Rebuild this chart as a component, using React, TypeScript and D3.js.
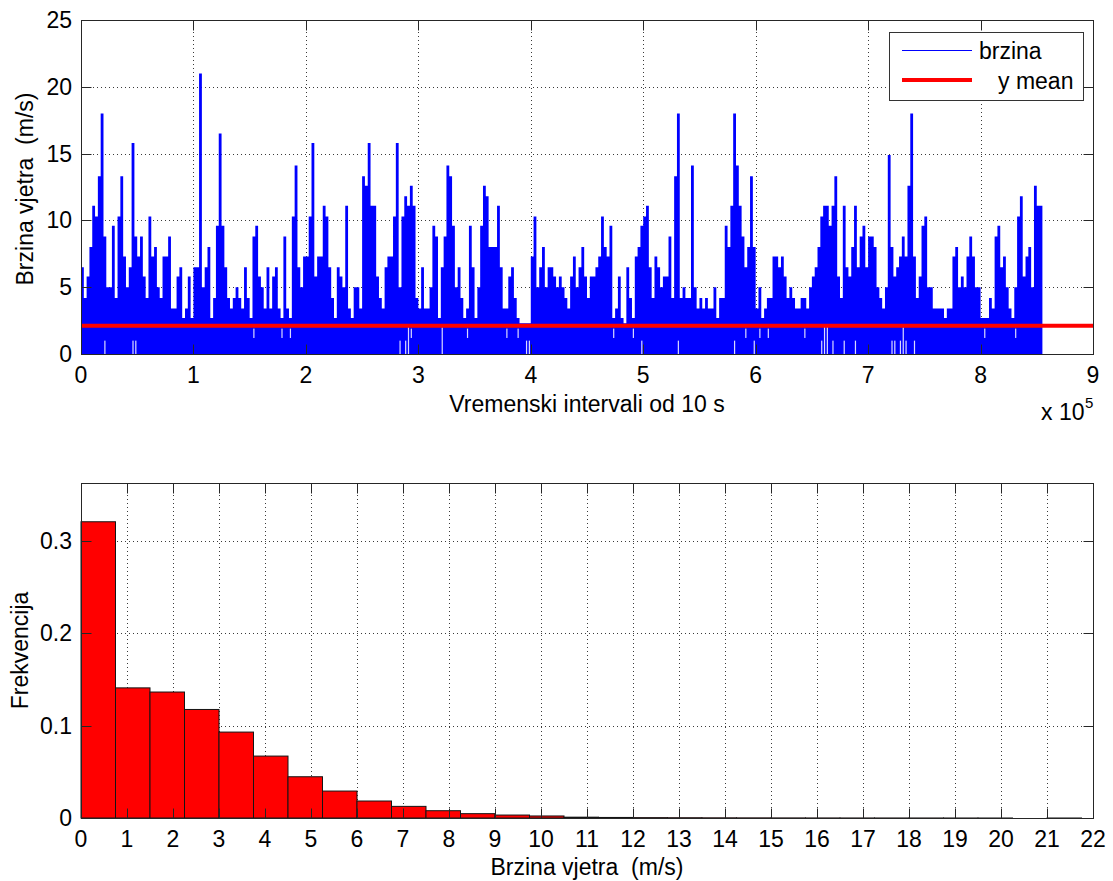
import React from 'react';
import * as d3 from 'd3';

const W = 1113;
const H = 881;
const FONT = '"Liberation Sans", Arial, Helvetica, sans-serif';
const FS = 23;

// ---- Wind speed record (ten-second intervals) ----
// Maximum speed (m/s) reached in each block of 2500 consecutive intervals.
const BLOCK = 2500;
const speedPeaks: number[] = [
  6.5, 4.2, 5.8, 8.0, 11.1, 10.3, 13.3, 18.0, 8.8, 5.0, 5.0, 9.6, 4.2, 10.3, 13.3, 7.3, 5.0, 6.5, 15.8, 8.8,
  7.3, 8.8, 5.8, 4.2, 10.3, 7.3, 8.0, 5.0, 4.2, 7.3, 7.3, 8.8, 3.4, 3.4, 5.8, 6.5, 2.7, 3.4, 5.8, 2.7,
  6.5, 6.5, 21.0, 5.0, 6.5, 8.0, 2.7, 4.2, 9.6, 16.5, 9.6, 6.5, 4.2, 3.4, 4.2, 5.0, 4.2, 3.4, 6.5, 4.2,
  2.7, 8.8, 9.6, 5.8, 5.0, 3.4, 6.5, 3.4, 5.8, 6.5, 3.4, 2.7, 8.8, 3.4, 2.7, 10.3, 14.1, 6.5, 5.0, 7.3,
  7.3, 10.3, 15.8, 5.8, 7.3, 7.3, 11.1, 10.3, 6.5, 4.2, 2.7, 6.5, 5.8, 5.0, 11.1, 3.4, 2.7, 5.0, 5.0, 3.4,
  13.3, 12.6, 15.8, 11.1, 11.1, 5.8, 4.2, 3.4, 6.5, 7.3, 7.3, 10.3, 15.8, 5.0, 10.3, 11.8, 11.1, 12.6, 11.1, 4.2,
  3.4, 6.5, 3.4, 3.4, 5.0, 9.6, 8.8, 2.7, 6.5, 8.8, 14.1, 13.3, 9.6, 5.0, 6.5, 4.2, 2.7, 3.4, 9.6, 6.5,
  2.7, 5.0, 9.6, 12.6, 11.8, 8.0, 8.0, 8.0, 11.1, 6.5, 3.4, 3.4, 5.8, 6.5, 4.2, 2.7, 2.3, 2.3, 2.3, 2.3,
  7.3, 10.3, 5.0, 6.5, 8.0, 5.0, 6.5, 6.5, 5.8, 5.0, 5.8, 5.0, 4.2, 3.4, 5.8, 7.3, 5.0, 6.5, 8.0, 5.8,
  4.2, 5.8, 5.8, 6.5, 7.3, 10.3, 8.0, 7.3, 9.6, 2.7, 3.4, 5.8, 2.7, 2.3, 6.5, 4.2, 2.7, 7.3, 8.0, 9.6,
  10.3, 11.1, 6.5, 4.2, 7.3, 6.5, 5.0, 5.8, 5.8, 8.8, 4.2, 13.3, 18.0, 4.2, 5.0, 4.2, 4.2, 14.1, 5.0, 3.4,
  4.2, 3.4, 4.2, 3.4, 3.4, 5.0, 2.7, 4.2, 4.2, 9.6, 8.0, 11.1, 18.0, 14.1, 11.1, 8.8, 6.5, 8.0, 13.3, 8.0,
  3.4, 5.0, 2.7, 3.4, 4.2, 4.2, 7.3, 7.3, 6.5, 7.3, 5.8, 4.2, 5.0, 4.2, 3.4, 3.4, 4.2, 4.2, 3.4, 5.0,
  5.8, 6.5, 8.0, 10.3, 11.1, 11.1, 9.6, 11.1, 13.3, 5.8, 4.2, 11.1, 6.5, 5.8, 8.0, 11.1, 6.5, 8.8, 9.6, 6.5,
  8.8, 8.8, 8.0, 5.0, 4.2, 3.4, 5.0, 14.9, 8.0, 5.8, 6.5, 7.3, 8.8, 7.3, 12.6, 18.0, 7.3, 4.2, 5.8, 9.6,
  10.3, 5.0, 5.0, 3.4, 3.4, 3.4, 3.4, 2.7, 3.4, 3.4, 7.3, 8.0, 5.0, 5.8, 5.0, 7.3, 8.8, 7.3, 5.0, 5.0,
  2.7, 2.7, 2.7, 4.2, 3.4, 8.8, 9.6, 6.5, 7.3, 5.0, 3.4, 2.7, 5.0, 10.3, 11.8, 5.8, 7.3, 8.0, 5.0, 12.6,
  11.1, 11.1,
];

// Short stretches where the speed never dropped into a band: [block, from m/s, to m/s]
const speedGaps: [number, number, number][] = [
  [8, 0, 1.0], [18, 0, 1.0], [19, 0, 1.0], [61, 1.2, 1.9], [71, 1.2, 1.9], [74, 1.2, 1.9],
  [113, 0, 1.0], [115, 0, 1.0], [116, 0, 2.0], [117, 1.2, 1.9], [128, 0, 2.0], [137, 1.2, 1.9],
  [151, 1.2, 1.9], [155, 1.2, 1.9], [158, 0, 1.0], [159, 0, 1.0],
  [189, 1.2, 1.9], [196, 1.2, 1.9], [199, 0, 1.0], [212, 0, 1.0], [232, 0, 1.0], [236, 1.2, 1.9],
  [239, 0, 1.0], [241, 1.2, 1.9], [244, 1.2, 1.9], [257, 1.2, 1.9], [263, 0, 1.0], [264, 0, 2.1],
  [265, 0, 2.1], [267, 0, 1.0], [271, 0, 1.0], [275, 0, 1.0], [288, 0, 1.0], [289, 0, 1.0],
  [291, 0, 1.0], [292, 0, 2.0], [293, 0, 1.0], [296, 0, 1.0], [321, 1.2, 1.9], [332, 1.2, 1.9],
];

const meanSpeed = 2.12;
const timeTicks = [0, 1, 2, 3, 4, 5, 6, 7, 8, 9]; // x 10^5 intervals
const speedTicks = [0, 5, 10, 15, 20, 25];

// ---- Relative frequency of wind speed, 0.75 m/s classes ----
const binWidth = 0.75;
const frequencies: number[] = [
  0.321, 0.141, 0.1365, 0.1176, 0.0931, 0.0671, 0.0447, 0.0292, 0.0184, 0.0126,
  0.0079, 0.0047, 0.0032, 0.0022, 0.0009, 0.0006, 0.0004, 0.0003, 0.0002, 0.00015,
  0.0001, 0.00007, 0.00005, 0.00004, 0.00003, 0.00002, 0.00001, 0, 0.00001,
];
const classTicks = d3.range(0, 23);
const freqTicks = [0, 0.1, 0.2, 0.3];

const AXIS = '#262626';
const GRID = '#3a3a3a';
const TICK = 10;
const px = (v: number) => Math.round(v) + 0.5;

type Frame = { x0: number; x1: number; y0: number; y1: number };

function Box({ f, xt, yt }: { f: Frame; xt: number[]; yt: number[] }) {
  return (
    <g stroke={AXIS} strokeWidth={1} fill="none">
      <rect x={px(f.x0)} y={px(f.y1)} width={Math.round(f.x1) - Math.round(f.x0)} height={Math.round(f.y0) - Math.round(f.y1)} />
      {xt.map((x, i) => (
        <g key={'xt' + i}>
          <line x1={px(x)} x2={px(x)} y1={px(f.y0)} y2={px(f.y0) - TICK} />
          <line x1={px(x)} x2={px(x)} y1={px(f.y1)} y2={px(f.y1) + TICK} />
        </g>
      ))}
      {yt.map((y, i) => (
        <g key={'yt' + i}>
          <line x1={px(f.x0)} x2={px(f.x0) + TICK} y1={px(y)} y2={px(y)} />
          <line x1={px(f.x1)} x2={px(f.x1) - TICK} y1={px(y)} y2={px(y)} />
        </g>
      ))}
    </g>
  );
}

function Grid({ f, xt, yt }: { f: Frame; xt: number[]; yt: number[] }) {
  return (
    <g stroke={GRID} strokeWidth={1} strokeDasharray="1 3" fill="none">
      {xt.map((x, i) => (
        <line key={'gx' + i} x1={px(x)} x2={px(x)} y1={f.y1} y2={f.y0} />
      ))}
      {yt.map((y, i) => (
        <line key={'gy' + i} x1={f.x0} x2={f.x1} y1={px(y)} y2={px(y)} />
      ))}
    </g>
  );
}

function SpeedPanel() {
  const x = d3.scaleLinear().domain([0, 9e5]).range([81, 1093]);
  const y = d3.scaleLinear().domain([0, 25]).range([354, 20]);
  const f: Frame = { x0: x(0), x1: x(9e5), y0: y(0), y1: y(25) };

  const pts: [number, number][] = speedPeaks.map((v, i) => [i * BLOCK, v]);
  pts.push([speedPeaks.length * BLOCK, speedPeaks[speedPeaks.length - 1]]);
  const area = d3
    .area<[number, number]>()
    .x((d) => x(d[0]))
    .y0(y(0))
    .y1((d) => y(d[1]))
    .curve(d3.curveStepAfter);

  const inner = (arr: number[], lo: number, hi: number) => arr.filter((v) => v > lo && v < hi);
  const gx = inner(timeTicks, 0, 9).map((t) => x(t * 1e5));
  const gy = inner(speedTicks, 0, 25).map((v) => y(v));

  return (
    <g>
      <Grid f={f} xt={gx} yt={gy} />
      <path d={area(pts) || ''} fill="#0000ff" />
      {speedGaps.map(([b, lo, hi], i) => {
        const cx = x((b + 0.5) * BLOCK);
        return (
          <rect key={'gap' + i} x={cx - 0.6} width={1.2} y={y(hi)} height={y(lo) - y(hi)} fill="#ffffff" opacity={0.85} />
        );
      })}
      <line x1={x(0)} x2={x(9e5)} y1={y(meanSpeed)} y2={y(meanSpeed)} stroke="#ff0000" strokeWidth={4} />
      <Box f={f} xt={timeTicks.map((t) => x(t * 1e5))} yt={speedTicks.map((v) => y(v))} />
      <g fontFamily={FONT} fontSize={FS} fill="#000">
        {timeTicks.map((t) => (
          <text key={'xl' + t} x={x(t * 1e5)} y={383} textAnchor="middle">{t}</text>
        ))}
        {speedTicks.map((v) => (
          <text key={'yl' + v} x={72} y={y(v)} textAnchor="end" dominantBaseline="central">{v}</text>
        ))}
        <text x={(f.x0 + f.x1) / 2} y={412} textAnchor="middle" style={{ whiteSpace: 'pre' }}>Vremenski intervali od 10 s</text>
        <text transform={`translate(33,${(f.y0 + f.y1) / 2 + 2}) rotate(-90)`} textAnchor="middle" style={{ whiteSpace: 'pre' }}>Brzina vjetra  (m/s)</text>
        <text x={1041} y={420}>x 10</text>
        <text x={1085} y={408} fontSize={15}>5</text>
      </g>
      {/* legend */}
      <g>
        <rect x={889.5} y={32.5} width={194} height={68} fill="#fff" stroke="#333" strokeWidth={1} />
        <line x1={902} x2={972} y1={50.5} y2={50.5} stroke="#0000ff" strokeWidth={1} />
        <line x1={902} x2={972} y1={80} y2={80} stroke="#ff0000" strokeWidth={4} />
        <g fontFamily={FONT} fontSize={FS} fill="#000">
          <text x={979} y={59}>brzina</text>
          <text x={998} y={89}>y mean</text>
        </g>
      </g>
    </g>
  );
}

function HistPanel() {
  const x = d3.scaleLinear().domain([0, 22]).range([81, 1093]);
  const y = d3.scaleLinear().domain([0, 0.363]).range([818, 483]);
  const f: Frame = { x0: x(0), x1: x(22), y0: y(0), y1: y(0.363) };
  const gx = classTicks.filter((v) => v > 0 && v < 22).map((v) => x(v));
  const gy = freqTicks.filter((v) => v > 0).map((v) => y(v));

  return (
    <g>
      <Grid f={f} xt={gx} yt={gy} />
      <g fill="#ff0000" stroke="#141414" strokeWidth={1}>
        {frequencies.map((p, i) =>
          p > 0 ? (
            <rect
              key={'bar' + i}
              x={x(i * binWidth)}
              width={x((i + 1) * binWidth) - x(i * binWidth)}
              y={y(p)}
              height={y(0) - y(p)}
            />
          ) : null
        )}
      </g>
      <Box f={f} xt={classTicks.map((v) => x(v))} yt={freqTicks.map((v) => y(v))} />
      <g fontFamily={FONT} fontSize={FS} fill="#000">
        {classTicks.map((v) => (
          <text key={'bx' + v} x={x(v)} y={847} textAnchor="middle">{v}</text>
        ))}
        {freqTicks.map((v) => (
          <text key={'by' + v} x={72} y={y(v)} textAnchor="end" dominantBaseline="central">{v === 0 ? '0' : v.toFixed(1)}</text>
        ))}
        <text x={(f.x0 + f.x1) / 2} y={875} textAnchor="middle" style={{ whiteSpace: 'pre' }}>Brzina vjetra  (m/s)</text>
        <text transform={`translate(28,${(f.y0 + f.y1) / 2}) rotate(-90)`} textAnchor="middle">Frekvencija</text>
      </g>
    </g>
  );
}

export default function App() {
  return (
    <svg
      width={W}
      height={H}
      viewBox={`0 0 ${W} ${H}`}
      style={{ position: 'absolute', left: 0, top: 0, background: '#fff', display: 'block' }}
    >
      <rect width={W} height={H} fill="#fff" />
      <SpeedPanel />
      <HistPanel />
    </svg>
  );
}
